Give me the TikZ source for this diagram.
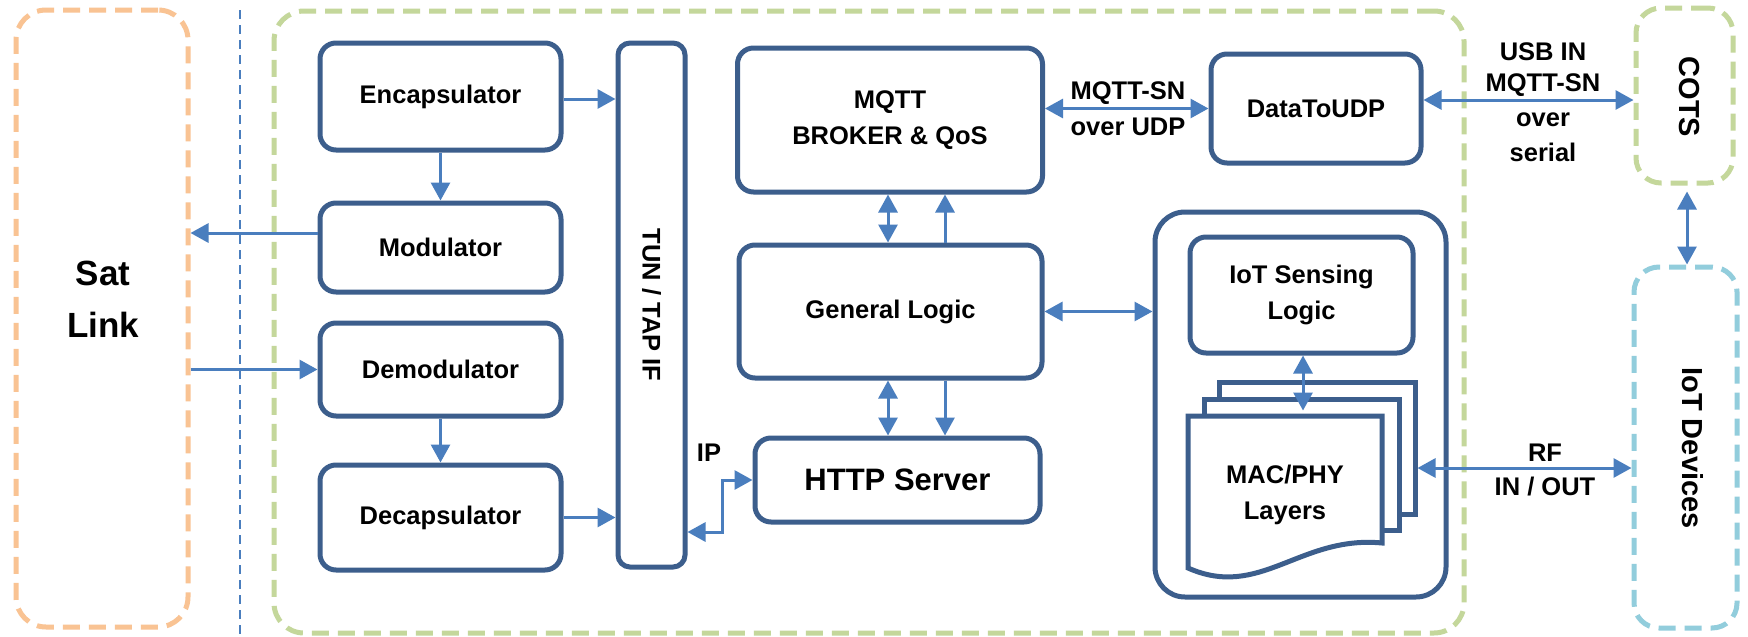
\documentclass[tikz,border=0pt]{standalone}
\usepackage{fontspec}
\setmainfont{Liberation Sans}
\usetikzlibrary{arrows.meta,calc}
\definecolor{boxblue}{RGB}{60,94,140}
\definecolor{arrblue}{RGB}{74,126,190}
\definecolor{orangeD}{RGB}{249,195,147}
\definecolor{greenD}{RGB}{196,215,155}
\definecolor{cyanD}{RGB}{146,205,220}
\newcommand{\mylbl}{\fontsize{25.5}{36}\selectfont\bfseries}
\newcommand{\mybig}{\fontsize{31}{38}\selectfont\bfseries}
\newcommand{\mysat}{\fontsize{35}{52}\selectfont\bfseries}
\newcommand{\myside}{\fontsize{29}{36}\selectfont\bfseries}
\begin{document}
\begin{tikzpicture}[x=1pt,y=-1pt,
  box/.style={draw=boxblue, line width=5pt, rounded corners=16pt, fill=white, align=center, inner sep=0pt, outer sep=2.5pt, font=\mylbl},
  page/.style={draw=boxblue, line width=5pt, fill=white, inner sep=0pt, outer sep=2.5pt},
  grp/.style={line width=5pt, dash pattern=on 17pt off 9pt, rounded corners=30pt, inner sep=0pt, outer sep=2.5pt},
  arr/.style={draw=arrblue, line width=3pt, -{Triangle[length=18pt,width=19pt]}},
  dbl/.style={draw=arrblue, line width=3pt, {Triangle[length=18pt,width=19pt]}-{Triangle[length=18pt,width=19pt]}},
  lbl/.style={font=\mylbl, align=center, inner sep=0pt}
]
\useasboundingbox (0,0) rectangle (1748,637);
\fill[white] (0,0) rectangle (1748,637);

% groups
\node[grp, draw=orangeD, minimum width=172pt, minimum height=617pt] (sat) at (102,318.5) {};
\node[font=\mysat, align=center, inner sep=0pt] (sattxt) at (103,299) {Sat\\Link};
\coordinate (divtop) at (240,10);
\coordinate (divbot) at (240,637);
\draw[arrblue, line width=1.5pt, dash pattern=on 9pt off 6pt] (divtop) -- (divbot);
\node[grp, draw=greenD, minimum width=1190pt, minimum height=622pt] (main) at (869,322) {};
\node[grp, rounded corners=25pt, draw=greenD, minimum width=97pt, minimum height=175pt] (cots) at (1684.5,95.5) {};
\node[font=\myside, rotate=-90, inner sep=0pt] (cotstxt) at (1689,97) {COTS};
\node[grp, rounded corners=25pt, draw=cyanD, minimum width=103pt, minimum height=361pt] (iotdev) at (1685.5,447.5) {};
\node[font=\myside, rotate=-90, inner sep=0pt] (iotdevtxt) at (1693,448) {IoT Devices};

% left column
\node[box, minimum width=241pt, minimum height=107pt] (encap) at (440.5,96.5) {Encapsulator};
\node[box, minimum width=241pt, minimum height=89pt] (mod) at (440.5,247.5) {Modulator};
\node[box, minimum width=241pt, minimum height=93pt] (demod) at (440.5,369.5) {Demodulator};
\node[box, minimum width=241pt, minimum height=105pt] (decap) at (440.5,517.5) {Decapsulator};
\node[box, rounded corners=12pt, minimum width=67pt, minimum height=524pt] (tun) at (651.5,305) {};
\node[lbl, rotate=-90] (tuntxt) at (tun.center) {TUN / TAP IF};

% middle column
\node[box, minimum width=305pt, minimum height=144pt] (mqtt) at (890,120) {MQTT\\BROKER \& QoS};
\node[box, minimum width=303pt, minimum height=133pt] (gl) at (890.5,311.5) {General Logic};
\node[box, minimum width=285pt, minimum height=84pt, font=\mybig] (http) at (897.5,480) {HTTP Server};
\node[box, minimum width=210pt, minimum height=109pt] (dtu) at (1316,108.5) {DataToUDP};

% IoT block
\node[box, rounded corners=30pt, minimum width=291pt, minimum height=385pt] (iotbox) at (1300.5,404.5) {};
\node[box, minimum width=223pt, minimum height=116pt] (iots) at (1301.5,295) {IoT Sensing\\Logic};
\node[page, minimum width=196pt, minimum height=132pt] (back) at (1317,448) {};
\node[page, minimum width=195pt, minimum height=131pt] (mid) at (1301.5,464.5) {};
\draw[page] (1188,416) -- (1382,416) -- (1382,543) .. controls (1300,535) and (1260,600) .. (1188,568) -- cycle;
\node[minimum width=194pt, minimum height=152pt, inner sep=0pt, outer sep=2.5pt] (front) at (1285,492) {};
\node[lbl] (mactxt) at (1285,495) {MAC/PHY\\Layers};

% arrows left
\draw[arr] ($(encap.east)+(0,2.5)$) -- ($(encap.east -| tun.west)+(0,2.5)$);
\draw[arr] (encap.south) -- (mod.north);
\draw[arr] ($(mod.west)+(0,-14.5)$) -- ($(mod.west -| sat.east)+(0,-14.5)$);
\draw[arr] (sat.east |- demod.west) -- (demod.west);
\draw[arr] (demod.south) -- (decap.north);
\draw[arr] (decap.east) -- (decap.east -| tun.west);

% arrows middle
\draw[dbl] (dtu.west -| mqtt.east) -- (dtu.west);
\node[lbl] (l1) at (1128,93) {MQTT-SN};
\node[lbl] (l2) at (1128,127) {over UDP};
\draw[dbl] (mqtt.south -| 888,0) -- (gl.north -| 888,0);
\draw[arr] (gl.north -| 945,0) -- (mqtt.south -| 945,0);
\draw[dbl] (gl.south -| 888,0) -- (http.north -| 888,0);
\draw[arr] (gl.south -| 945,0) -- (http.north -| 945,0);
\draw[dbl] (gl.east) -- (gl.east -| iotbox.west);
\draw[dbl] ($(http.west -| tun.east)+(0,52)$) -- ++(35,0) |- (http.west);
\node[lbl] (iptxt) at (709,453) {IP};

% arrows right
\draw[dbl] ($(dtu.east)+(0,-8.5)$) -- ($(dtu.east -| cots.west)+(0,-8.5)$);
\node[lbl] (u1) at (1543,52) {USB IN};
\node[lbl] (u2) at (1543,85) {MQTT-SN};
\node[lbl] (u3) at (1543,120) {over};
\node[lbl] (u4) at (1543,152) {serial};
\draw[dbl, shorten <=6pt] (cots.south -| 1687,0) -- (iotdev.north -| 1687,0);
\draw[dbl] ($(iots.south)+(1.5,0)$) -- ($(iots.south |- front.north)+(1.5,-3)$);
\draw[dbl] ($(back.east)+(0,20)$) -- ($(back.east -| iotdev.west)+(0,20)$);
\node[lbl] (rf1) at (1545,453) {RF};
\node[lbl] (rf2) at (1545,487) {IN / OUT};
\end{tikzpicture}
\end{document}
